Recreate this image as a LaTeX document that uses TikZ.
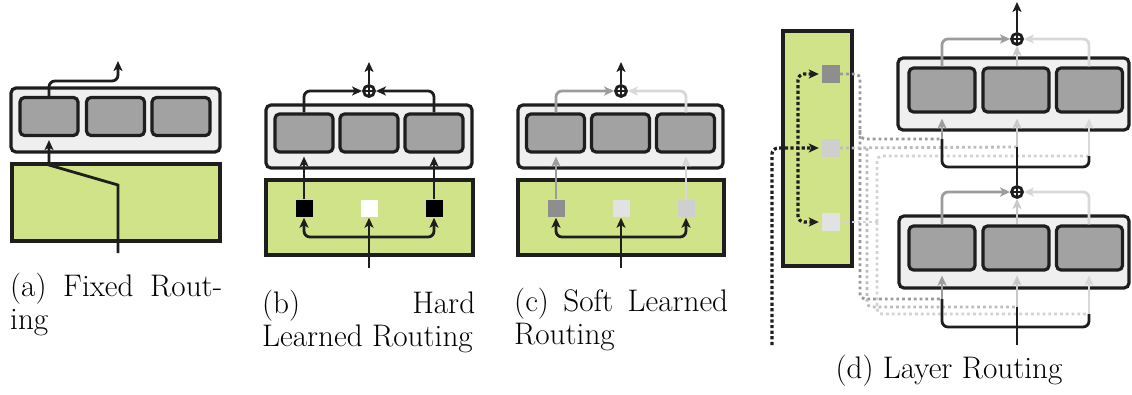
\documentclass[tikz,border=0pt]{standalone}
\usetikzlibrary{arrows.meta}

\definecolor{edge}{HTML}{1E1E1E}
\definecolor{shell}{HTML}{EFEFEF}
\definecolor{unitfill}{HTML}{A2A2A2}
\definecolor{gate}{RGB}{209,227,136}
\definecolor{wDark}{HTML}{8E8E8E}
\definecolor{wMid}{HTML}{CFCFCF}
\definecolor{wLight}{HTML}{E2E2E2}
\definecolor{cDark}{HTML}{9C9C9C}
\definecolor{cMid}{HTML}{C8C8C8}
\definecolor{cLight}{HTML}{D8D8D8}
\definecolor{pDark}{HTML}{9A9A9A}
\definecolor{pMid}{HTML}{BCBCBC}
\definecolor{pLight}{HTML}{D2D2D2}

\begin{document}
\begin{tikzpicture}[x=1pt,y=-1pt,
  >={Stealth[length=10pt,width=9pt,inset=2.5pt]},
  shellbox/.style={draw=edge,fill=shell,line width=3.2pt,rounded corners=5pt,
    inner sep=0pt,minimum width=#1,minimum height=64pt},
  unitbox/.style={draw=edge,fill=unitfill,line width=3.2pt,rounded corners=4.5pt,
    inner sep=0pt,minimum width=58pt,minimum height=38pt},
  gatebox/.style={draw=edge,fill=gate,line width=3.2pt,inner sep=0pt},
  sq/.style={fill=#1,inner sep=0pt,minimum size=17pt},
  sumnode/.style={circle,draw=edge,fill=white,line width=2.8pt,inner sep=0pt,minimum size=11pt,
    path picture={
      \draw[edge,line width=2.2pt] ([xshift=-3.8pt]path picture bounding box.center) -- ([xshift=3.8pt]path picture bounding box.center);
      \draw[edge,line width=2.2pt] ([yshift=-3.8pt]path picture bounding box.center) -- ([yshift=3.8pt]path picture bounding box.center);}},
  flow/.style={draw=#1,line width=2.8pt,rounded corners=6pt,->},
  flow/.default=edge,
  wire/.style={draw=#1,line width=2.8pt,rounded corners=6pt},
  wire/.default=edge,
  twoway/.style={draw=edge,line width=2.8pt,rounded corners=6pt,<->},
  gdots/.style={draw=#1,line width=2.8pt,dash pattern=on 2.8pt off 3pt,rounded corners=5pt},
  bdots/.style={draw=edge,line width=3.2pt,dash pattern=on 3.2pt off 2.4pt,rounded corners=6pt},
  caption/.style={font=\fontsize{31.2}{32.5}\selectfont,inner sep=0pt},
]
\useasboundingbox (0,0) rectangle (1132,394);

% ---------------- (a) fixed routing ----------------
\node[shellbox=209pt] (aShell) at (115.5,120) {};
\node[unitbox] (aU1) at (49,116.5) {};
\node[unitbox] (aU2) at (115.5,116.5) {};
\node[unitbox] (aU3) at (181,116.5) {};
\node[gatebox,minimum width=208pt,minimum height=77pt] (aGate) at (116,202.5) {};
\coordinate (aIn) at (118,253);
\coordinate (aOut) at (118,61);
\draw[flow,rounded corners=0pt] (aIn) -- (118,185) -- (49,165) -- ([yshift=-3pt]aU1.south);
\draw[flow] (aU1.north) -- (49,81) -- (118,81) -- (aOut);

% ---------------- (b) hard learned routing ----------------
\node[shellbox=206pt,minimum height=63pt] (bShell) at (369,136.5) {};
\node[unitbox] (bU1) at (304,133) {};
\node[unitbox] (bU2) at (369,133) {};
\node[unitbox] (bU3) at (434,133) {};
\node[gatebox,minimum width=207pt,minimum height=75pt] (bGate) at (369.5,217.5) {};
\node[sq=black] (bS1) at (304,208) {};
\node[sq=white] (bS2) at (369,208) {};
\node[sq=black] (bS3) at (434,208) {};
\node[sumnode] (bSum) at (369,91) {};
\coordinate (bIn) at (369,268);
\coordinate (bOut) at (369,62);
\draw[flow] (bIn) -- ([yshift=-1pt]bS2.south);
\draw[twoway] ([yshift=-1pt]bS1.south) -- (304,237) -- (434,237) -- ([yshift=-1pt]bS3.south);
\draw[flow] (bS1.north) -- ([yshift=-3pt]bU1.south);
\draw[flow] (bS3.north) -- ([yshift=-3pt]bU3.south);
\draw[flow] (bU1.north) |- (bSum.west);
\draw[flow] (bU3.north) |- (bSum.east);
\draw[flow] (bSum.north) -- (bOut);

% ---------------- (c) soft learned routing ----------------
\node[shellbox=205pt,minimum height=63pt] (cShell) at (620.5,136.5) {};
\node[unitbox] (cU1) at (555.5,133) {};
\node[unitbox] (cU2) at (620.5,133) {};
\node[unitbox] (cU3) at (685.5,133) {};
\node[gatebox,minimum width=206pt,minimum height=75pt] (cGate) at (621,217.5) {};
\node[sq=wDark] (cS1) at (556,208) {};
\node[sq=wLight] (cS2) at (621,208) {};
\node[sq=wMid] (cS3) at (686,208) {};
\node[sumnode] (cSum) at (621,91) {};
\coordinate (cIn) at (621,268);
\coordinate (cOut) at (621,62);
\draw[flow] (cIn) -- ([yshift=-1pt]cS2.south);
\draw[twoway] ([yshift=-1pt]cS1.south) -- (556,237) -- (686,237) -- ([yshift=-1pt]cS3.south);
\draw[flow=cDark] (cS1.north) -- ([yshift=-3pt]cU1.south -| cS1);
\draw[flow=cLight] (cS3.north) -- ([yshift=-3pt]cU3.south -| cS3);
\draw[flow=cDark] (cU1.north -| cS1) |- (cSum.west);
\draw[flow=cLight] (cU3.north -| cS3) |- (cSum.east);
\draw[flow] (cSum.north) -- (cOut);

% ---------------- (d) layer routing ----------------
\node[gatebox,minimum width=69pt,minimum height=235pt] (dGate) at (817.5,148.5) {};
\node[sq=wDark,minimum size=18pt] (dS1) at (831,74) {};
\node[sq=wMid,minimum size=18pt] (dS2) at (831,148) {};
\node[sq=wLight,minimum size=18pt] (dS3) at (831,222) {};

% upper layer
\node[shellbox=231pt,minimum height=72pt] (dTop) at (1013.5,94) {};
\node[unitbox,minimum width=66pt,minimum height=44pt] (dT1) at (942,90) {};
\node[unitbox,minimum width=66pt,minimum height=44pt] (dT2) at (1016,90) {};
\node[unitbox,minimum width=66pt,minimum height=44pt] (dT3) at (1089.5,90) {};
\node[sumnode] (dSumT) at (1017,39) {};
\coordinate (dOut) at (1017,2);
% lower layer
\node[shellbox=230pt,minimum height=72pt] (dBot) at (1014,252) {};
\node[unitbox,minimum width=66pt,minimum height=44pt] (dB1) at (942,248) {};
\node[unitbox,minimum width=66pt,minimum height=44pt] (dB2) at (1016,248) {};
\node[unitbox,minimum width=66pt,minimum height=44pt] (dB3) at (1089.5,248) {};
\node[sumnode] (dSumB) at (1017,192) {};
\coordinate (dIn) at (1017,345);
\coordinate (dCtl) at (772,345);

% gating points where the router weights meet each branch
\coordinate (gT1) at (942,139);
\coordinate (gT2) at (1017,147);
\coordinate (gT3) at (1089,156);
\coordinate (gB1) at (942,299);
\coordinate (gB2) at (1017,307);
\coordinate (gB3) at (1089,314);

% router weight lines
\draw[gdots=pDark] (dS1.east) -- (860,74) -- (860,139) -- (gT1);
\draw[gdots=pDark] (860,130) -- (860,299) -- (gB1);
\draw[gdots=pMid] (dS2.east) -- (gT2);
\draw[gdots=pMid] (867,148) -- (867,307) -- (gB2);
\draw[gdots=pLight] (dS3.east) -- (877,222);
\draw[gdots=pLight] (877,222) -- (877,156) -- (gT3);
\draw[gdots=pLight] (877,222) -- (877,314) -- (gB3);

% control signal into the router
\draw[bdots,->] (dCtl) -- (772,148) -- ([xshift=-3pt]dS2.west);
\draw[bdots,<->]
  ([xshift=-3pt]dS1.west) -- (798,74) -- (798,222) -- ([xshift=-3pt]dS3.west);

% lower layer flow
\draw[wire] (dIn) -- (gB2);
\draw[wire] (gB1) -- (942,327) -- (1089,327) -- (gB3);
\draw[flow=cDark] (gB1) -- ([yshift=-4pt]dB1.south -| gB1);
\draw[flow=cMid] (gB2) -- ([yshift=-4pt]dB2.south -| gB2);
\draw[flow=cLight] (gB3) -- ([yshift=-4pt]dB3.south -| gB3);
\draw[flow=cDark] (dB1.north) |- (dSumB.west);
\draw[flow=cMid] (dB2.north -| dSumB) -- (dSumB.south);
\draw[flow=cLight] (dB3.north -| gB3) |- (dSumB.east);

% upper layer flow
\draw[wire] (dSumB.north) -- (gT2);
\draw[wire] (gT1) -- (942,167) -- (1089,167) -- (gT3);
\draw[flow=cDark] (gT1) -- ([yshift=-5pt]dT1.south -| gT1);
\draw[flow=cMid] (gT2) -- ([yshift=-5pt]dT2.south -| gT2);
\draw[flow=cLight] (gT3) -- ([yshift=-5pt]dT3.south -| gT3);
\draw[flow=cDark] (dT1.north) |- (dSumT.west);
\draw[flow=cMid] (dT2.north -| dSumT) -- (dSumT.south);
\draw[flow=cLight] (dT3.north -| gT3) |- (dSumT.east);
\draw[flow] (dSumT.north) -- (dOut);

% ---------------- captions ----------------
\node[caption,text width=212pt,align=justify,anchor=north west] (capA) at (10,273)
  {(a) Fixed Rout-\linebreak ing};
\node[caption,text width=213pt,align=justify,anchor=north west] (capB) at (262,290)
  {(b) Hard\linebreak Learned Routing};
\node[caption,text width=214pt,align=justify,anchor=north west] (capC) at (514,288)
  {(c) Soft Learned\linebreak Routing};
\node[caption,anchor=base] (capD) at (949,378) {(d) Layer Routing};
\end{tikzpicture}
\end{document}
